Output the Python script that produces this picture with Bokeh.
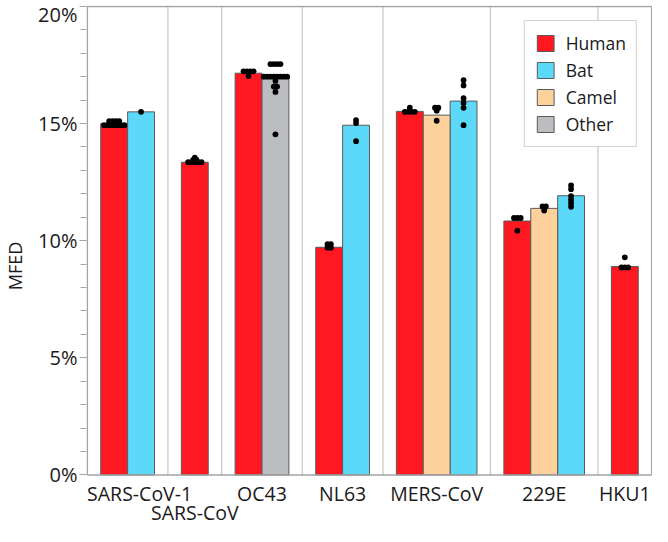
from bokeh.plotting import figure
from bokeh.models import ColumnDataSource, FixedTicker, Range1d, Legend, LegendItem
from bokeh.core.properties import value
from bokeh.embed import file_html
from bokeh.resources import INLINE

# ---------------- data ----------------
groups = ["SARS-CoV-1", "SARS-CoV", "OC43", "NL63", "MERS-CoV", "229E", "HKU1"]
group_label_line = [1, 2, 1, 1, 1, 1, 1]   # SARS-CoV label sits on a second line
hosts = [
    ["Human", "Bat"],
    ["Human"],
    ["Human", "Other"],
    ["Human", "Bat"],
    ["Human", "Camel", "Bat"],
    ["Human", "Camel", "Bat"],
    ["Human"],
]
bar_values = [
    [15.0, 15.5],
    [13.35],
    [17.15, 17.0],
    [9.72, 14.93],
    [15.52, 15.36, 15.96],
    [10.84, 11.38, 11.92],
    [8.9],
]
dot_values = [
    [[14.93] * 7 + [15.1] * 4, [15.5]],
    [[13.35] * 5 + [13.45] * 2 + [13.55]],
    [[17.23] * 4 + [17.03], [17.54] * 4 + [17.0] * 8 + [16.82] + [16.58] * 2 + [16.35] + [14.54]],
    [[9.85] * 2 + [9.7] * 2, [15.15, 15.02, 14.25]],
    [[15.5] * 4 + [15.68], [15.68] * 2 + [15.55] + [15.12], [16.85, 16.63, 16.08, 15.88, 15.67, 14.93]],
    [[10.97] * 3 + [10.43], [11.46] * 2 + [11.29], [12.36, 12.2, 11.9, 11.75, 11.6, 11.45]],
    [[8.86] * 3 + [9.29]],
]
host_order = ["Human", "Bat", "Camel", "Other"]
host_colors = {"Human": "#FF1822", "Bat": "#5CD8F8", "Camel": "#FDD19B", "Other": "#BCBDC1"}
y_ticks = [0, 5, 10, 15, 20]
y_tick_labels = ["0%", "5%", "10%", "15%", "20%"]
y_min, y_max = 0, 20

# ---------------- layout computation ----------------
bar_x, bar_top, bar_host = [], [], []
dot_x, dot_y = [], []
label_pos, separators = [], []
cursor = 0.0
dot_step = 0.125
for g, hs, vals, dots in zip(groups, hosts, bar_values, dot_values):
    start = cursor
    for i, (h, v, dl) in enumerate(zip(hs, vals, dots)):
        cx = start + 1 + i
        bar_x.append(cx)
        bar_top.append(v)
        bar_host.append(h)
        rows = {}
        for d in dl:
            rows[d] = rows.get(d, 0) + 1
        for d, n in rows.items():
            for k in range(n):
                dot_x.append(cx + (k - (n - 1) / 2) * dot_step)
                dot_y.append(d)
    width = len(hs) + 1
    label_pos.append(start + width / 2)
    cursor = start + width
    separators.append(cursor)
separators = separators[:-1]
x_max = cursor

# label band below the value axis (in value units)
label_band = 2.2
line_y = {1: -0.78, 2: -1.62}
first_label_nudge = 12  # px, keeps the first label inside the drawing area

# ---------------- figure ----------------
FONT = "Open Sans"
GREY = "#a3a3a3"
TXT = "#1a1a1a"
p = figure(width=652, height=526, output_backend="svg", toolbar_location=None,
           x_axis_location=None,
           x_range=Range1d(-0.03, x_max + 0.03), y_range=Range1d(y_min - label_band, y_max + 0.04),
           min_border_left=60, min_border_top=5, min_border_right=0, min_border_bottom=0)
p.background_fill_color = "white"
p.border_fill_color = "white"
p.outline_line_color = None
p.xgrid.visible = False
p.ygrid.visible = False

# group separators
p.segment(x0=separators, x1=separators, y0=[y_min] * len(separators), y1=[y_max] * len(separators),
          line_color="#c6c6c6", line_width=1.2)

renderers = {}
for h in host_order:
    xs = [x for x, hh in zip(bar_x, bar_host) if hh == h]
    ts = [t for t, hh in zip(bar_top, bar_host) if hh == h]
    src = ColumnDataSource(dict(x=xs, top=ts))
    renderers[h] = p.vbar(x="x", top="top", width=1.0, bottom=y_min, source=src,
                          fill_color=host_colors[h], line_color="#5a5a5a", line_width=1)

p.scatter(x=dot_x, y=dot_y, size=5.8, fill_color="black", line_color=None)

# plot box
p.segment(x0=[0, 0, 0, x_max], x1=[x_max, x_max, 0, x_max],
          y0=[y_min, y_max, y_min, y_min], y1=[y_min, y_max, y_max, y_max],
          line_color=GREY, line_width=1.5)

# group labels
lab_src = ColumnDataSource(dict(
    x=label_pos,
    y=[line_y[ln] for ln in group_label_line],
    text=groups,
    xoff=[first_label_nudge if i == 0 else 0 for i in range(len(groups))],
))
p.text(x="x", y="y", text="text", x_offset="xoff", source=lab_src,
       text_align="center", text_baseline="middle", text_font=value(FONT),
       text_font_size="19.5px", text_color=TXT)

# y axis
ya = p.yaxis[0]
ya.ticker = FixedTicker(ticks=y_ticks, minor_ticks=list(range(y_min, y_max + 1)))
ya.major_label_overrides = {t: l for t, l in zip(y_ticks, y_tick_labels)}
ya.axis_line_color = None
ya.major_tick_line_color = GREY
ya.minor_tick_line_color = GREY
ya.major_tick_line_width = 1.2
ya.minor_tick_line_width = 1.2
ya.major_tick_out = 7
ya.major_tick_in = 0
ya.minor_tick_out = 6
ya.minor_tick_in = 0
ya.major_label_standoff = 2
ya.major_label_text_font = FONT
ya.major_label_text_font_size = "20px"
ya.major_label_text_color = TXT
ya.axis_label = "MFED"
ya.axis_label_text_font = FONT
ya.axis_label_text_font_size = "18px"
ya.axis_label_text_font_style = "normal"
ya.axis_label_text_color = TXT
ya.axis_label_standoff = 8

legend = Legend(items=[LegendItem(label=h, renderers=[renderers[h]]) for h in host_order],
                location="top_right")
legend.margin = 15
legend.padding = 10
legend.spacing = 3
legend.glyph_width = 21
legend.glyph_height = 20
legend.label_height = 20
legend.label_standoff = 10
legend.label_text_font = FONT
legend.label_text_font_size = "17.5px"
legend.label_text_color = TXT
legend.border_line_color = GREY
legend.border_line_width = 1.5
legend.background_fill_color = "white"
legend.background_fill_alpha = 1.0
p.add_layout(legend)

open("out.html", "w").write(file_html(p, INLINE))
